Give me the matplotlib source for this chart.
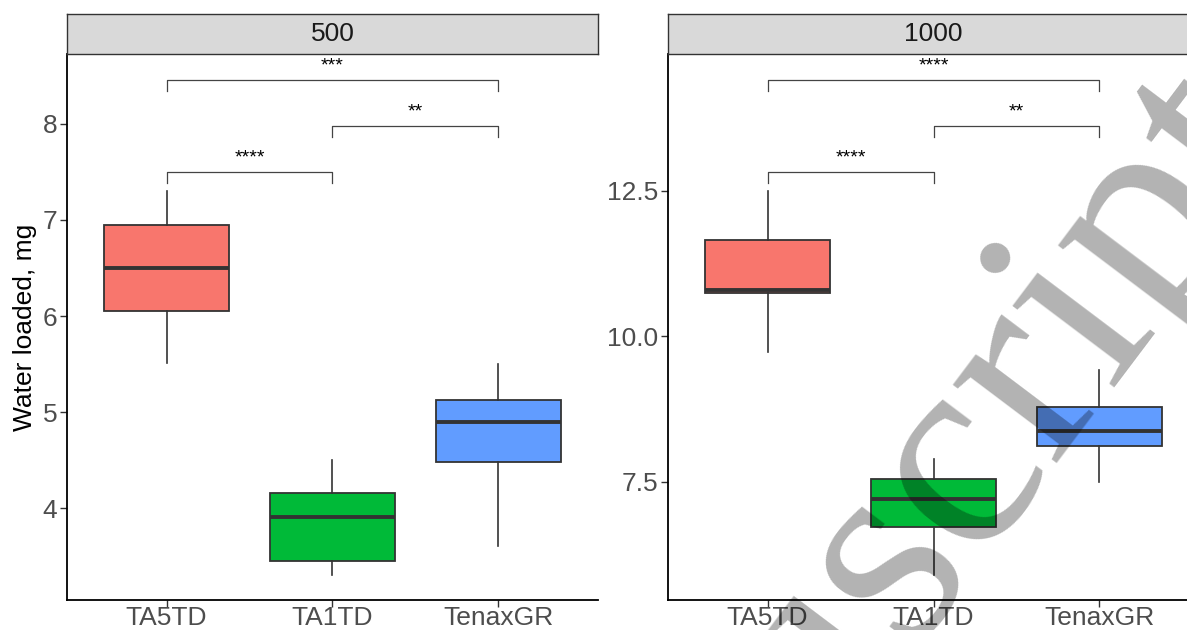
import matplotlib
matplotlib.use("Agg")
import matplotlib.pyplot as plt

plt.rcParams['font.family'] = ['Liberation Sans', 'DejaVu Sans']

groups = ["TA5TD", "TA1TD", "TenaxGR"]
colors = ["#F8766D", "#00BA38", "#619CFF"]
panels = ["500", "1000"]

# five-number summaries: whisker low, q1, median, q3, whisker high
low_500 = [5.51, 3.30, 3.60]
q1_500 = [6.05, 3.45, 4.48]
med_500 = [6.50, 3.91, 4.90]
q3_500 = [6.95, 4.16, 5.12]
high_500 = [7.30, 4.50, 5.50]

low_1000 = [9.73, 5.91, 7.50]
q1_1000 = [10.74, 6.73, 8.11]
med_1000 = [10.80, 7.21, 8.37]
q3_1000 = [11.66, 7.55, 8.78]
high_1000 = [12.50, 7.90, 9.42]

# significance brackets: pairs (1-based group index), bracket height, label
pairs = [(1, 2), (2, 3), (1, 3)]
brk_500 = [7.50, 7.98, 8.46]
brk_1000 = [12.83, 13.61, 14.40]
lab_500 = ["****", "**", "***"]
lab_1000 = ["****", "**", "****"]

ylims = {"500": (3.042, 8.729), "1000": (5.472, 14.854)}
yticks = {"500": [4, 5, 6, 7, 8], "1000": [7.5, 10.0, 12.5]}
yfmt = {"500": "{:.0f}", "1000": "{:.1f}"}

W, H = 1187, 630
fig = plt.figure(figsize=(W / 100, H / 100), dpi=100)

data = {
    "500": (low_500, q1_500, med_500, q3_500, high_500, brk_500, lab_500),
    "1000": (low_1000, q1_1000, med_1000, q3_1000, high_1000, brk_1000, lab_1000),
}
lefts = [67, 668]
panel_w = 531

for name, left in zip(panels, lefts):
    lo, q1, md, q3, hi, brk, labs = data[name]
    ax = fig.add_axes([left / W, 30 / H, panel_w / W, 546 / H])
    stats = []
    for i in range(len(groups)):
        stats.append(dict(whislo=lo[i], q1=q1[i], med=md[i], q3=q3[i], whishi=hi[i], fliers=[]))
    bp = ax.bxp(stats, positions=[1, 2, 3], widths=0.75, patch_artist=True, showcaps=False,
                boxprops=dict(edgecolor="#333333", linewidth=1.3),
                medianprops=dict(color="#333333", linewidth=2.8, solid_capstyle="butt"),
                whiskerprops=dict(color="#333333", linewidth=1.2))
    for patch, c in zip(bp["boxes"], colors):
        patch.set_facecolor(c)

    y0, y1 = ylims[name]
    tip = 0.02 * (y1 - y0)
    for (a, b), yb, lab in zip(pairs, brk, labs):
        ax.plot([a, a, b, b], [yb - tip, yb, yb, yb - tip], color="#444444", lw=0.9)
        ax.annotate(lab, xy=((a + b) / 2, yb), xytext=(0, 4), textcoords="offset points",
                    ha="center", va="bottom", fontsize=14, color="black")

    ax.set_xlim(0.4, 3.6)
    ax.set_ylim(y0, y1)
    ax.set_xticks([1, 2, 3])
    ax.set_xticklabels(groups)
    ax.set_yticks(yticks[name])
    ax.set_yticklabels([yfmt[name].format(v) for v in yticks[name]])
    ax.tick_params(labelsize=19, labelcolor="#4D4D4D", color="#333333", length=5, width=1)
    ax.tick_params(axis="x", pad=-1)
    ax.tick_params(axis="y", pad=2)
    for s in ["top", "right"]:
        ax.spines[s].set_visible(False)
    for s in ["left", "bottom"]:
        ax.spines[s].set_linewidth(1.3)
        ax.spines[s].set_color("black")
    if name == "500":
        ax.set_ylabel("Water loaded, mg", fontsize=19, color="black", labelpad=4)

    strip = fig.add_axes([left / W, 576 / H, panel_w / W, 40 / H])
    strip.set_facecolor("#D9D9D9")
    strip.set_xticks([])
    strip.set_yticks([])
    for s in strip.spines.values():
        s.set_color("#333333")
        s.set_linewidth(1.0)
    strip.text(0.5, 0.5, name, ha="center", va="center", fontsize=19, color="#1A1A1A",
               transform=strip.transAxes)

# watermark across the right panel
fig.text(1290 / W, 1 - 144 / H, "Manuscript", fontsize=205, family="Liberation Serif",
         color="black", alpha=0.3, rotation=53, rotation_mode="anchor",
         ha="right", va="baseline", zorder=10)

fig.savefig("out.png", dpi=100)
